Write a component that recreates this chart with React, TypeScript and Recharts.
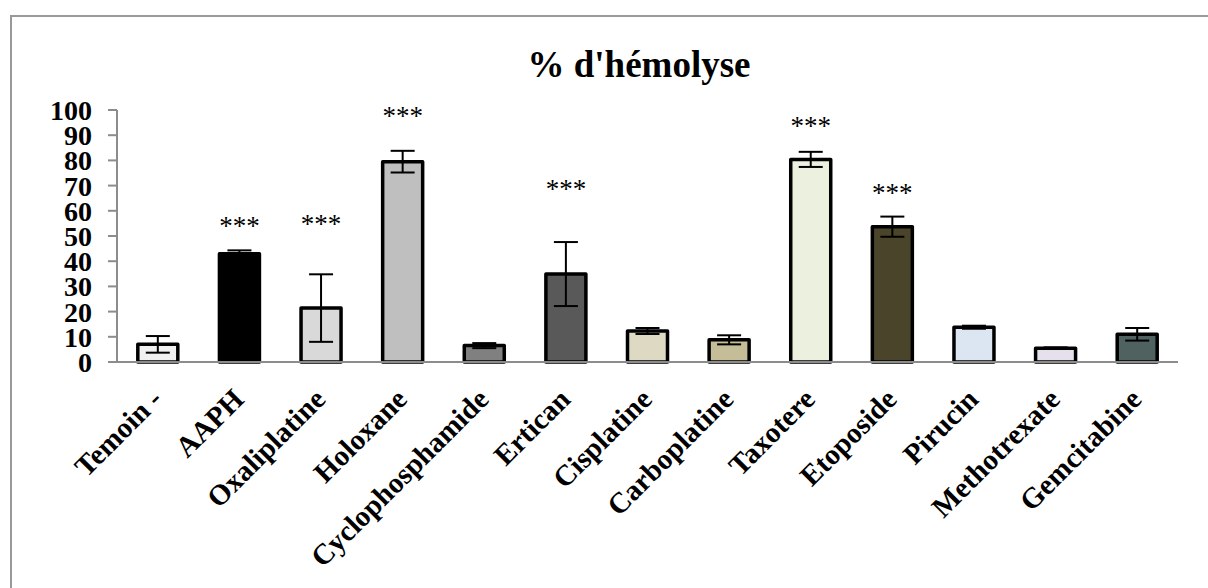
import React from 'react';
import { ComposedChart, Bar, Cell, XAxis, YAxis, ErrorBar, Scatter } from 'recharts';

const categories = ['Temoin -', 'AAPH', 'Oxaliplatine', 'Holoxane', 'Cyclophosphamide', 'Ertican', 'Cisplatine', 'Carboplatine', 'Taxotere', 'Etoposide', 'Pirucin', 'Methotrexate', 'Gemcitabine'];
const values = [7, 43, 21.4, 79.5, 6.5, 34.9, 12.3, 8.8, 80.4, 53.7, 13.8, 5.5, 11];
const errors = [3.3, 1.3, 13.4, 4.3, 1, 12.7, 1.2, 1.8, 3, 4, 0.6, 0.3, 2.5];
const stars: (number | null)[] = [null, 55.3, 56.1, 98.8, null, 69.8, null, null, 94.8, 68.3, null, null, null];
const colors = ['#f0f0f0', '#000000', '#d9d9d9', '#bfbfbf', '#808080', '#595959', '#ddd9c3', '#c4bd97', '#ebf1de', '#4a452a', '#dce6f2', '#e6e0ec', '#4f6260'];
const yTicks = [0, 10, 20, 30, 40, 50, 60, 70, 80, 90, 100];
const boundaryTicks = [0, 1, 2, 3, 4, 5, 6, 7, 8, 9, 10, 11, 12, 13];

const data = categories.map((name, i) => ({ name, value: values[i], err: errors[i], star: stars[i] }));

const FONT = '"Liberation Serif", "Times New Roman", Times, serif';
const AXIS_GRAY = '#8c8c8c';

const XTick = (props: any) => {
  const { x, y, payload } = props;
  return (
    <g transform={`translate(${x + 6},${y})`}>
      <text x={0} y={0} textAnchor="end" transform="rotate(-45)" fill="#000" fontSize={29} fontWeight="bold" fontFamily={FONT}>
        {payload.value}
      </text>
    </g>
  );
};

const StarShape = (props: any) => {
  const { cx, cy, payload } = props;
  if (payload == null || payload.star == null || cx == null || cy == null || isNaN(cy)) return <g />;
  return (
    <text x={cx} y={cy + 12} textAnchor="middle" fill="#000" fontSize={27} fontFamily={FONT}>***</text>
  );
};

export default function App() {
  return (
    <div style={{ position: 'absolute', left: 0, top: 0, width: 1208, height: 588, overflow: 'hidden', background: '#fff' }}>
      <div style={{ position: 'absolute', left: 10, top: 15, width: 1300, height: 700, border: '2px solid #999', boxSizing: 'border-box' }} />
      <div style={{ position: 'absolute', left: 439, top: 46, width: 400, textAlign: 'center', fontFamily: FONT, fontWeight: 'bold', fontSize: 37, lineHeight: '37px', color: '#000', whiteSpace: 'nowrap' }}>
        % d'hémolyse
      </div>
      <div style={{ position: 'absolute', left: 0, top: 0 }}>
        <ComposedChart width={1208} height={588} data={data} margin={{ top: 110, right: 30, bottom: 0, left: 0 }} barCategoryGap="25.5%">
          <XAxis xAxisId="axisB" dataKey="name" type="category" height={225} axisLine={false} tickLine={false} tickSize={0} tickMargin={38} interval={0} tick={<XTick />} />
          <XAxis xAxisId="axisA" type="number" domain={[0, 13]} ticks={boundaryTicks} allowDataOverflow height={1} tick={false} tickSize={8} axisLine={{ stroke: AXIS_GRAY, strokeWidth: 2 }} tickLine={{ stroke: AXIS_GRAY, strokeWidth: 2 }} />
          <YAxis domain={[0, 100]} ticks={yTicks} width={117} interval={0} tickSize={9} tickMargin={16} axisLine={{ stroke: AXIS_GRAY, strokeWidth: 2 }} tickLine={{ stroke: AXIS_GRAY, strokeWidth: 2 }} tick={{ fill: '#000', fontSize: 28, fontWeight: 'bold', fontFamily: FONT }} />
          <Bar dataKey="value" xAxisId="axisB" stroke="#000" strokeWidth={3.5} strokeLinejoin="round" isAnimationActive={false}>
            {data.map((d, i) => (
              <Cell key={d.name} fill={colors[i]} />
            ))}
            <ErrorBar dataKey="err" width={12} stroke="#000" strokeWidth={2} direction="y" />
          </Bar>
          <Scatter dataKey="star" xAxisId="axisB" isAnimationActive={false} shape={<StarShape />} />
        </ComposedChart>
      </div>
    </div>
  );
}
